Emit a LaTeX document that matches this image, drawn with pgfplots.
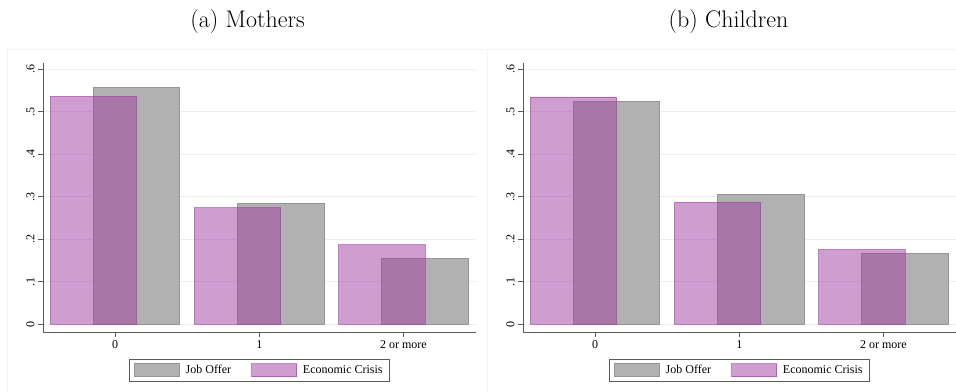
\documentclass[border=0pt]{standalone}
\usepackage{fontspec}
\usepackage{pgfplots}
\pgfplotsset{compat=1.18}
\newfontfamily\tnr{Liberation Serif}
\definecolor{gridc}{RGB}{233,240,242}
\definecolor{barg}{RGB}{177,177,177}
\definecolor{bargd}{RGB}{150,150,150}
\definecolor{purp}{RGB}{160,60,160}
\definecolor{axc}{RGB}{90,90,90}
\definecolor{framec}{RGB}{240,244,245}
\pgfplotsset{
  panel/.style={
    scale only axis, width=432.5pt, height=269.3pt, anchor=south west,
    xmin=-0.5, xmax=2.5, ymin=-0.0181, ymax=0.6155,
    axis x line*=bottom, axis y line*=left,
    axis line style={draw=axc, line width=0.9pt, -},
    xtick={0,1,2}, xticklabels={0,1,2 or more},
    ytick={0,0.1,0.2,0.3,0.4,0.5,0.6}, yticklabels={0,.1,.2,.3,.4,.5,.6},
    tick align=outside, major tick length=5pt,
    major tick style={draw=axc, line width=0.9pt},
    ymajorgrids, grid style={draw=gridc, line width=0.8pt},
    ticklabel style={font=\tnr\fontsize{12}{14}\selectfont, text=black},
    yticklabel style={rotate=90, anchor=south},
    xticklabel style={anchor=north},
    ybar, bar width=86.4pt,
    legend style={at={(0.5,-0.1003)}, anchor=north, legend columns=2, draw=axc, line width=0.8pt,
      font=\tnr\fontsize{12}{14}\selectfont, inner xsep=5pt, inner ysep=4pt,
      /tikz/every odd column/.append style={column sep=4pt},
      /tikz/every even column/.append style={column sep=18pt}},
    legend image code/.code={\draw[#1] (0pt,-6.5pt) rectangle (45pt,6.5pt);},
  },
  gbar/.style={fill=barg, draw=bargd, line width=0.8pt, bar shift=21.6pt},
  pbar/.style={fill=purp, fill opacity=0.5, draw=purp, draw opacity=0.6, line width=0.8pt, bar shift=-21.6pt},
}
\begin{document}
\begin{tikzpicture}
\useasboundingbox (0,0) rectangle (956pt,-391pt);
\draw[framec, line width=0.8pt] (7pt,-391pt) -- (7pt,-49pt) -- (956pt,-49pt);
\draw[framec, line width=0.8pt] (487pt,-391pt) -- (487pt,-49pt);
\node[font=\fontsize{24}{28}\selectfont] at (247.5pt,-22pt) {(a) Mothers};
\node[font=\fontsize{24}{28}\selectfont] at (728.5pt,-22pt) {(b) Children};
\begin{axis}[panel, at={(43pt,-332pt)}]
\addplot[gbar] coordinates {(0,0.558) (1,0.284) (2,0.156)};
\addlegendentry{Job Offer}
\addplot[pbar] coordinates {(0,0.536) (1,0.274) (2,0.187)};
\addlegendentry{Economic Crisis}
\end{axis}
\begin{axis}[panel, at={(523pt,-332pt)}]
\addplot[gbar] coordinates {(0,0.525) (1,0.305) (2,0.167)};
\addlegendentry{Job Offer}
\addplot[pbar] coordinates {(0,0.535) (1,0.287) (2,0.176)};
\addlegendentry{Economic Crisis}
\end{axis}
\end{tikzpicture}
\end{document}
